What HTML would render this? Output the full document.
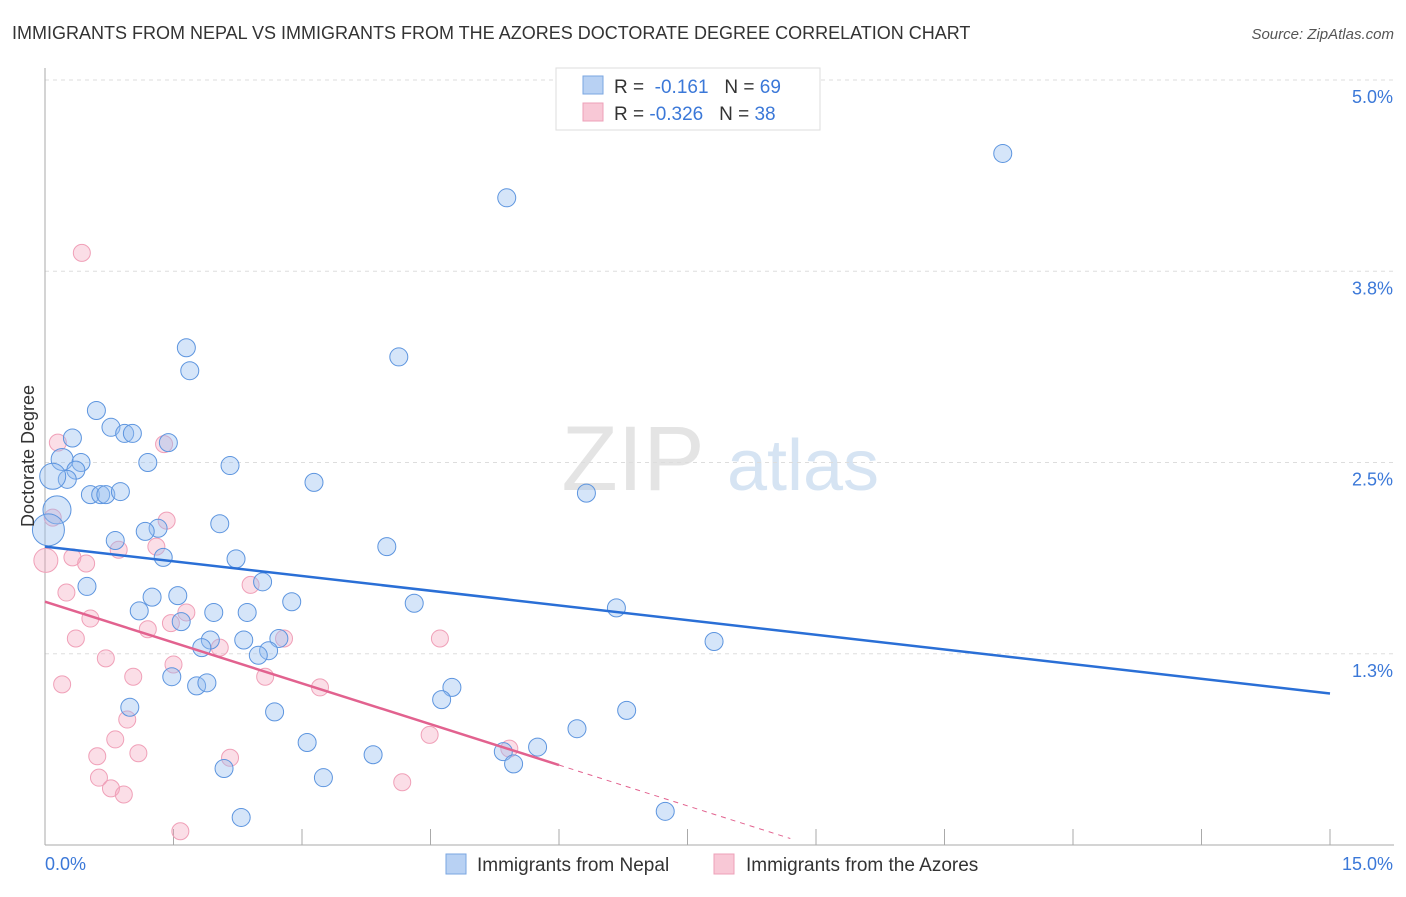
<!DOCTYPE html>
<html><head><meta charset="utf-8"><style>
body{margin:0;background:#fff;font-family:"Liberation Sans",sans-serif;}
svg text{font-family:"Liberation Sans",sans-serif;}
</style></head><body>
<svg width="1406" height="892" viewBox="0 0 1406 892">
<text x="12" y="39" font-size="18" fill="#333">IMMIGRANTS FROM NEPAL VS IMMIGRANTS FROM THE AZORES DOCTORATE DEGREE CORRELATION CHART</text>
<text x="1394" y="39" font-size="15" fill="#555" text-anchor="end" font-style="italic">Source: ZipAtlas.com</text>
<g><text x="633" y="490" font-size="92" fill="#e4e4e4" font-family="Liberation Serif" text-anchor="middle">ZIP</text><text x="803" y="490" font-size="72" fill="#d6e4f3" text-anchor="middle">atlas</text></g>
<g id="grid"></g><g id="axes"></g><g id="pts"></g><g id="lines"></g>
<text transform="translate(34,456) rotate(-90)" font-size="18" fill="#333" text-anchor="middle">Doctorate Degree</text>
<g>
<rect x="556" y="68" width="264" height="62" fill="#fff" stroke="#ddd"/>
<rect x="583" y="76" width="20" height="18" fill="#b8d1f3" stroke="#7aa6e0"/>
<rect x="583" y="103" width="20" height="18" fill="#f8c8d6" stroke="#eea0b8"/>
<text x="614" y="93" font-size="19" fill="#333">R = <tspan fill="#3b78d8">&#160;-0.161</tspan>&#160;&#160;&#160;N = <tspan fill="#3b78d8">69</tspan></text>
<text x="614" y="120" font-size="19" fill="#333">R = <tspan fill="#3b78d8">-0.326</tspan>&#160;&#160;&#160;N = <tspan fill="#3b78d8">38</tspan></text>
</g>
<g>
<rect x="446" y="854" width="20" height="20" fill="#b8d1f3" stroke="#7aa6e0"/>
<text x="477" y="871" font-size="19" fill="#333">Immigrants from Nepal</text>
<rect x="714" y="854" width="20" height="20" fill="#f8c8d6" stroke="#eea0b8"/>
<text x="746" y="871" font-size="19" fill="#333">Immigrants from the Azores</text>
</g>
</svg>
<script>
const nepalX=[11.18,5.39,4.13,1.65,1.69,0.60,0.77,0.93,1.02,0.32,1.44,0.20,0.42,1.20,2.16,0.36,0.26,0.09,3.14,0.53,0.65,0.71,0.88,6.32,0.14,0.04,2.04,1.32,1.17,0.82,3.99,1.38,2.23,2.54,0.49,1.25,1.55,2.88,4.31,6.67,1.10,1.97,2.36,1.59,1.93,2.32,2.73,1.83,2.61,2.49,7.81,1.48,1.77,1.89,4.75,4.63,0.99,2.68,6.79,6.21,3.06,5.75,5.35,3.83,5.47,2.09,3.25,7.24,2.29];
const nepalY=[4.52,4.23,3.19,3.25,3.10,2.84,2.73,2.69,2.69,2.66,2.63,2.52,2.50,2.50,2.48,2.45,2.39,2.41,2.37,2.29,2.29,2.29,2.31,2.30,2.19,2.06,2.10,2.07,2.05,1.99,1.95,1.88,1.87,1.72,1.69,1.62,1.63,1.59,1.58,1.55,1.53,1.52,1.52,1.46,1.34,1.34,1.35,1.29,1.27,1.24,1.33,1.10,1.04,1.06,1.03,0.95,0.90,0.87,0.88,0.76,0.67,0.64,0.61,0.59,0.53,0.50,0.44,0.22,0.18];
const nepalR=[9,9,9,9,9,9,9,9,9,9,9,11,9,9,9,9,9,13,9,9,9,9,9,9,14,16,9,9,9,9,9,9,9,9,9,9,9,9,9,9,9,9,9,9,9,9,9,9,9,9,9,9,9,9,9,9,9,9,9,9,9,9,9,9,9,9,9,9,9];
const azoresX=[0.43,0.15,1.39,0.09,1.42,0.86,1.30,0.01,0.32,0.48,2.40,0.25,1.65,0.53,1.47,1.20,0.36,2.79,4.61,2.04,0.71,1.50,1.03,2.57,0.20,3.21,0.96,4.49,0.82,5.42,1.09,0.61,2.16,0.63,0.77,0.92,4.17,1.58];
const azoresY=[3.87,2.63,2.62,2.14,2.12,1.93,1.95,1.86,1.88,1.84,1.70,1.65,1.52,1.48,1.45,1.41,1.35,1.35,1.35,1.29,1.22,1.18,1.10,1.10,1.05,1.03,0.82,0.72,0.69,0.63,0.60,0.58,0.57,0.44,0.37,0.33,0.41,0.09];
const nepalTrend=[1.95,0.99];
const azoresTrend=[1.59,-0.10];
const azoresSolidEnd=6.0;
const yTicks=[5.0,3.75,2.5,1.25];
const yTickLabels=["5.0%","3.8%","2.5%","1.3%"];
const xTicks=[0,1.5,3,4.5,6,7.5,9,10.5,12,13.5,15];
const NS='http://www.w3.org/2000/svg';
const sx=v=>45+v*1285/15, sy=v=>845-v*153;
function mk(p,t,a){const e=document.createElementNS(NS,t);for(const k in a)e.setAttribute(k,a[k]);p.appendChild(e);return e;}
const grid=document.getElementById('grid'),axes=document.getElementById('axes'),pts=document.getElementById('pts'),lines=document.getElementById('lines');
yTicks.forEach((v,i)=>{
 const l=mk(grid,'line',{x1:45,x2:1394,y1:sy(v),y2:sy(v),stroke:'#ddd','stroke-dasharray':'4,4'});
 
 
 const t=mk(axes,'text',{x:1393,y:sy(v)+23,'font-size':18,fill:'#3b78d8','text-anchor':'end'});t.textContent=yTickLabels[i];
 
 
});
const ax=mk(axes,'line',{x1:45,x2:45,y1:68,y2:845,stroke:'#aaa'});


const bx=mk(axes,'line',{x1:45,x2:1394,y1:845,y2:845,stroke:'#aaa'});


xTicks.forEach(v=>{const t=mk(axes,'line',{x1:sx(v),x2:sx(v),y1:829,y2:845,stroke:'#aaa'});
 
 });
const xl0=mk(axes,'text',{x:45,y:870,'font-size':18,fill:'#3b78d8'});xl0.textContent='0.0%';


const xl1=mk(axes,'text',{x:1393,y:870,'font-size':18,fill:'#3b78d8','text-anchor':'end'});xl1.textContent='15.0%';


azoresX.forEach((x,i)=>{const c=mk(pts,'circle',{cx:sx(x),cy:sy(azoresY[i]),r:i==7?12:8.5,fill:'rgba(244,160,185,0.35)',stroke:'#f0a0b8','stroke-width':1});
 
 });
nepalX.forEach((x,i)=>{const c=mk(pts,'circle',{cx:sx(x),cy:sy(nepalY[i]),r:nepalR[i],fill:'rgba(150,190,240,0.4)',stroke:'#5d95df','stroke-width':1});
 
 });
const bl=mk(lines,'line',{x1:sx(0),y1:sy(nepalTrend[0]),x2:sx(15),y2:sy(nepalTrend[1]),stroke:'#2a6fd6','stroke-width':2.5});


const az=x=>azoresTrend[0]+(azoresTrend[1]-azoresTrend[0])*x/9.5;
const pl=mk(lines,'line',{x1:sx(0),y1:sy(az(0)),x2:sx(azoresSolidEnd),y2:sy(az(azoresSolidEnd)),stroke:'#e2628f','stroke-width':2.5});


const pd=mk(lines,'line',{x1:sx(azoresSolidEnd),y1:sy(az(azoresSolidEnd)),x2:sx(8.7),y2:sy(az(8.7)),stroke:'#e2628f','stroke-width':1,'stroke-dasharray':'5,5'});


</script>
</body></html>
